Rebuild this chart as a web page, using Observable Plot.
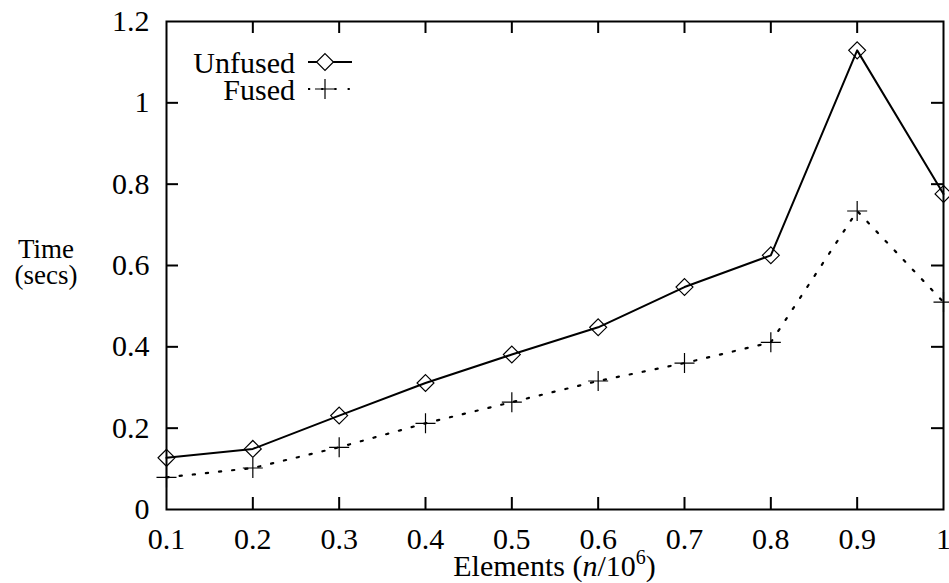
<!DOCTYPE html>
<html><head><meta charset="utf-8">
<script src="https://cdn.jsdelivr.net/npm/d3@7"></script>
<script src="https://cdn.jsdelivr.net/npm/@observablehq/plot@0.6"></script>
<style>
body{margin:0;background:#fff;}
#wrap{position:relative;width:949px;height:583px;}
#overlay{position:absolute;left:0;top:0;pointer-events:none;}
</style></head><body><div id="wrap"></div>
<script>
const elements = [0.1, 0.2, 0.3, 0.4, 0.5, 0.6, 0.7, 0.8, 0.9, 1.0];
const unfused  = [0.127, 0.149, 0.231, 0.311, 0.381, 0.448, 0.547, 0.625, 1.129, 0.776];
const fused    = [0.079, 0.102, 0.153, 0.212, 0.264, 0.316, 0.360, 0.411, 0.734, 0.510];
const seriesNames = ["Unfused", "Fused"];
const xTicks = [0.1, 0.2, 0.3, 0.4, 0.5, 0.6, 0.7, 0.8, 0.9, 1.0];
const xTickLabels = ["0.1", "0.2", "0.3", "0.4", "0.5", "0.6", "0.7", "0.8", "0.9", "1"];
const yTicks = [0, 0.2, 0.4, 0.6, 0.8, 1.0, 1.2];
const yTickLabels = ["0", "0.2", "0.4", "0.6", "0.8", "1", "1.2"];
const xTitle = "Elements";
const yTitle = ["Time", "(secs)"];

const W = 949, H = 583, mL = 166, mR = 6, mT = 21, mB = 74;
const fw = W - mL - mR, fh = H - mT - mB, T = 12;
const FONT = "'Liberation Serif', serif";

const dataU = elements.map((x, i) => ({x, y: unfused[i]}));
const dataF = elements.map((x, i) => ({x, y: fused[i]}));

const chart = Plot.plot({
  width: W, height: H,
  marginLeft: mL, marginRight: mR, marginTop: mT, marginBottom: mB,
  style: {fontFamily: FONT, fontSize: "30px", color: "#000", background: "white"},
  x: {type: "linear", domain: [0.1, 1.0]},
  y: {type: "linear", domain: [0, 1.2]},
  marks: [
    Plot.axisX(xTicks, {anchor: "bottom", tickSize: 0, tickPadding: 18, label: null, fontSize: 30,
      tickFormat: d => xTickLabels[xTicks.indexOf(d)]}),
    Plot.axisY(yTicks, {anchor: "left", tickSize: 0, tickPadding: 17, label: null, fontSize: 30,
      tickFormat: d => yTickLabels[yTicks.indexOf(d)]}),
    Plot.ruleX(xTicks.slice(1, -1), {x: d => d, insetTop: fh - T, stroke: "black", strokeWidth: 2}),
    Plot.ruleX(xTicks.slice(1, -1), {x: d => d, insetBottom: fh - T, stroke: "black", strokeWidth: 2}),
    Plot.ruleY(yTicks.slice(1, -1), {y: d => d, insetRight: fw - T, stroke: "black", strokeWidth: 2}),
    Plot.ruleY(yTicks.slice(1, -1), {y: d => d, insetLeft: fw - T, stroke: "black", strokeWidth: 2}),
    Plot.frame({stroke: "black", strokeWidth: 2}),
    Plot.line(dataU, {x: "x", y: "y", stroke: "black", strokeWidth: 2}),
    Plot.line(dataF, {x: "x", y: "y", stroke: "black", strokeWidth: 2.2, strokeDasharray: "2.2,11"}),
    Plot.dot(dataU, {x: "x", y: "y", symbol: "diamond2", r: 7.6, stroke: "black", strokeWidth: 1.2, fill: "none"}),
    Plot.dot(dataF, {x: "x", y: "y", symbol: "plus", r: 6.5, stroke: "black", strokeWidth: 1.2})
  ]
});
document.getElementById("wrap").appendChild(chart);

// overlay: axis titles and legend
const svg = d3.select("#wrap").append("svg").attr("id", "overlay")
  .attr("width", W).attr("height", H)
  .style("font-family", FONT).style("font-size", "30px");

svg.append("text").attr("x", 46).attr("y", 258).attr("text-anchor", "middle").attr("font-size", "27px").text(yTitle[0]);
svg.append("text").attr("x", 46).attr("y", 284).attr("text-anchor", "middle").attr("font-size", "27px").text(yTitle[1]);

const xt = svg.append("text").attr("x", (mL + W - mR) / 2).attr("y", 576).attr("text-anchor", "middle");
xt.append("tspan").text(xTitle + " (");
xt.append("tspan").attr("font-style", "italic").text("n");
xt.append("tspan").text("/10");
xt.append("tspan").attr("dy", -12).attr("font-size", "20px").text("6");
xt.append("tspan").attr("dy", 12).text(")");

// legend
const lg = svg.append("g");
lg.append("text").attr("x", 295).attr("y", 73).attr("text-anchor", "end").text(seriesNames[0]);
lg.append("text").attr("x", 295).attr("y", 100).attr("text-anchor", "end").text(seriesNames[1]);
lg.append("line").attr("x1", 308).attr("x2", 352).attr("y1", 62).attr("y2", 62)
  .attr("stroke", "black").attr("stroke-width", 2);
lg.append("path").attr("transform", "translate(325,62)")
  .attr("d", d3.symbol(d3.symbolDiamond2, Math.PI * 7.6 * 7.6)())
  .attr("fill", "white").attr("stroke", "black").attr("stroke-width", 1.2);
lg.append("line").attr("x1", 308).attr("x2", 352).attr("y1", 89).attr("y2", 89)
  .attr("stroke", "black").attr("stroke-width", 2.2).attr("stroke-dasharray", "2.2,11");
lg.append("path").attr("transform", "translate(325,89)")
  .attr("d", d3.symbol(d3.symbolPlus, Math.PI * 6.5 * 6.5)())
  .attr("fill", "none").attr("stroke", "black").attr("stroke-width", 1.2);
</script>
</body></html>
